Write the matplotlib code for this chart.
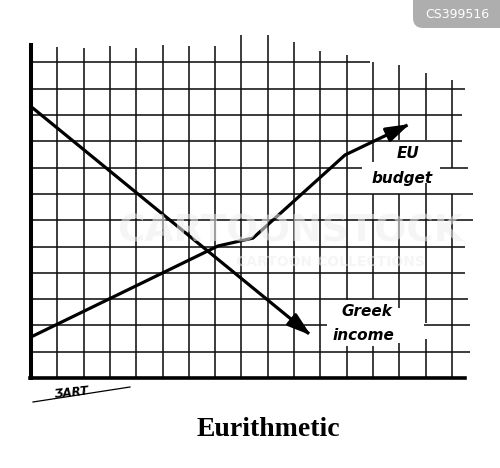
import numpy as np
import matplotlib
matplotlib.use('Agg')
import matplotlib.pyplot as plt
from matplotlib.patches import FancyBboxPatch

# hand drawn grid: one vertical line per column, tops and gaps as drawn
col_x = np.arange(17)
col_top = [12.66, 12.6, 12.55, 12.62, 12.55, 12.66, 12.62, 12.62, 13.04,
           13.04, 12.78, 12.43, 12.28, 12.0, 11.9, 11.6, 11.33]
col_gaps = {12: [(1.2, 2.95)],
            13: [(7.0, 8.2), (1.2, 3.0)],
            14: [(7.0, 9.05), (1.33, 2.65)],
            15: [(7.4, 9.05), (1.5, 2.1)],
            16: [(7.0, 8.0)]}

row_y = np.arange(1, 13)
row_segs = [[(0, 16.7)],
            [(0, 11.25), (14.95, 16.7)],
            [(0, 16.6)],
            [(0, 16.5)],
            [(0, 16.5)],
            [(0, 16.8)],
            [(0, 16.8)],
            [(0, 12.6), (15.55, 16.6)],
            [(0, 16.4)],
            [(0, 16.4)],
            [(0, 16.5)],
            [(0, 12.9)]]

greek_x = [0, 10.72]
greek_y = [10.32, 1.56]
eu_x = [0, 7.11, 8.44, 11.94, 14.49]
eu_y = [1.56, 5.02, 5.32, 8.48, 9.70]

x_axis_end = 16.5
y_axis_top = 12.66

# pixel layout of the cartoon (26.3 px per grid cell, origin at 31,378)
cell = 26.3
ox, oy = 31, 378
W, H = 500, 468


def px(x, y):
    return (x - ox) / cell, (oy - y) / cell


fig = plt.figure(figsize=(5, 4.68), dpi=100)
ax = fig.add_axes([0, 0, 1, 1])
ax.set_xlim(px(0, 0)[0], px(W, 0)[0])
ax.set_ylim(px(0, H)[1], px(0, 0)[1])
ax.axis('off')

grid_kw = dict(color='#111111', lw=1.15, solid_capstyle='butt', zorder=2)

for i, top in zip(col_x[1:], col_top[1:]):
    pieces = [0.0]
    for a, b in sorted(col_gaps.get(i, [])):
        pieces += [a, b]
    pieces.append(top)
    for k in range(0, len(pieces), 2):
        ax.plot([i, i], [pieces[k], pieces[k + 1]], **grid_kw)

for j, segs in zip(row_y, row_segs):
    for a, b in segs:
        ax.plot([a, b], [j, j], **grid_kw)

# axes
ax.plot([0, 0], [0, y_axis_top], color='k', lw=2.9, zorder=3)
ax.plot([-0.05, x_axis_end], [0, 0], color='k', lw=2.6, zorder=3)

# the two series with arrow heads
for xs, ys in [(greek_x, greek_y), (eu_x, eu_y)]:
    dx, dy = xs[-1] - xs[-2], ys[-1] - ys[-2]
    d = np.hypot(dx, dy)
    ax.plot(xs[:-1] + [xs[-1] - 0.25 * dx / d],
            ys[:-1] + [ys[-1] - 0.25 * dy / d],
            color='k', lw=2.3, solid_joinstyle='miter', zorder=4)
    ax.annotate('', xy=(xs[-1], ys[-1]),
                xytext=(xs[-1] - 0.8 * dx / d, ys[-1] - 0.8 * dy / d),
                arrowprops=dict(arrowstyle='-|>,head_length=1.0,head_width=0.32',
                                color='k', lw=2.3, mutation_scale=14),
                zorder=5)

lab_kw = dict(fontsize=11, fontweight='bold', fontstyle='italic',
              family='DejaVu Sans', ha='center', va='center', zorder=6)
ax.text(*px(408, 154), 'EU', **lab_kw)
ax.text(*px(402, 178), 'budget', **lab_kw)
ax.text(*px(367, 311), 'Greek', **lab_kw)
ax.text(*px(363, 335), 'income', **lab_kw)

# faint stock watermark
ax.text(*px(290, 232), 'CARTOONSTOCK', fontsize=27, fontweight='bold',
        family='DejaVu Sans', color='#eeeeee', alpha=0.55, ha='center',
        va='center', zorder=7)
ax.text(*px(330, 262), 'CARTOON COLLECTIONS', fontsize=10, fontweight='bold',
        family='DejaVu Sans', color='#eeeeee', alpha=0.55, ha='center',
        va='center', zorder=7)

# signature
ax.plot([px(33, 402)[0], px(130, 387)[0]], [px(33, 402)[1], px(130, 387)[1]],
        color='k', lw=0.9, zorder=3)
ax.text(*px(72, 393), 'ƷART', fontsize=8.5, fontweight='bold',
        fontstyle='italic', rotation=6, ha='center', va='center', zorder=3)

# caption
ax.text(*px(268, 430), 'Eurithmetic', fontsize=20, fontweight='bold',
        family='Liberation Serif', ha='center', va='center')

# id tag, top right
x0, y0 = px(413, 28)
x1, y1 = px(520, -20)
tag = FancyBboxPatch((x0, y0), x1 - x0, y1 - y0,
                     boxstyle='round,pad=0,rounding_size=0.38',
                     facecolor='#aeaeae', edgecolor='none', zorder=8)
ax.add_patch(tag)
ax.text(*px(457, 14), 'CS399516', fontsize=9, color='white',
        ha='center', va='center', zorder=9)

plt.savefig('out.png', dpi=100)
